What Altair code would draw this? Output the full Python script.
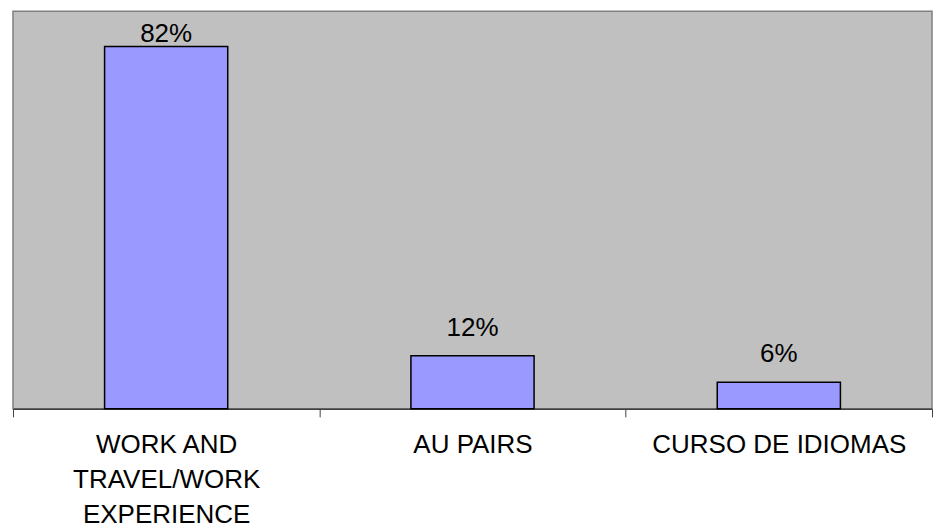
import altair as alt
import pandas as pd

# Programme categories (one entry per wrapped line) and their shares
category_lines = [
    ["WORK AND", "TRAVEL/WORK", "EXPERIENCE"],
    ["AU PAIRS"],
    ["CURSO DE IDIOMAS"],
]
shares = [0.82, 0.12, 0.06]

df = pd.DataFrame({
    "programa": ["\n".join(lines) for lines in category_lines],
    "share": shares,
})

FONT = "Liberation Sans"
SIZE = 26

x_enc = alt.X(
    "programa:N",
    sort=None,
    scale=alt.Scale(paddingInner=0, paddingOuter=0),
    axis=alt.Axis(
        title=None,
        labelAngle=0,
        labelExpr="split(datum.label, '\\n')",
        labelFont=FONT,
        labelFontSize=SIZE,
        labelColor="#000000",
        labelLineHeight=35,
        labelPadding=15,
        labelLimit=400,
        labelBaseline="top",
        tickBand="extent",
        tickSize=8,
        tickColor="#404040",
        domainColor="#404040",
        domainWidth=1.5,
        grid=False,
    ),
)
y_scale = alt.Scale(domain=[0, 0.9], nice=False, zero=True)

bars = alt.Chart(df).mark_bar(
    color="#9999FF",
    stroke="#000000",
    strokeWidth=1.5,
    width=alt.RelativeBandSize(0.402),
).encode(
    x=x_enc,
    y=alt.Y("share:Q", scale=y_scale, axis=None),
)

text_base = alt.Chart(df).encode(
    x=alt.X("programa:N", sort=None),
    y=alt.Y("share:Q", scale=y_scale),
    text=alt.Text("share:Q", format=".0%"),
)

# Tall bar keeps its label inside the plot area
labels_low = text_base.transform_filter("datum.share <= 0.8").mark_text(
    font=FONT, fontSize=SIZE, color="#000000", baseline="alphabetic", dy=-20
)
labels_high = text_base.transform_filter("datum.share > 0.8").mark_text(
    font=FONT, fontSize=SIZE, color="#000000", baseline="alphabetic", dy=-5
)

chart = (
    alt.layer(bars, labels_low, labels_high)
    .properties(
        width=920,
        height=398,
        padding={"left": 12, "top": 11, "right": 0, "bottom": 0},
        background="#FFFFFF",
    )
    .configure_view(fill="#C0C0C0", stroke="#808080", strokeWidth=1.5)
)

chart.save("out.html", embed_options={"renderer": "svg", "actions": False})
